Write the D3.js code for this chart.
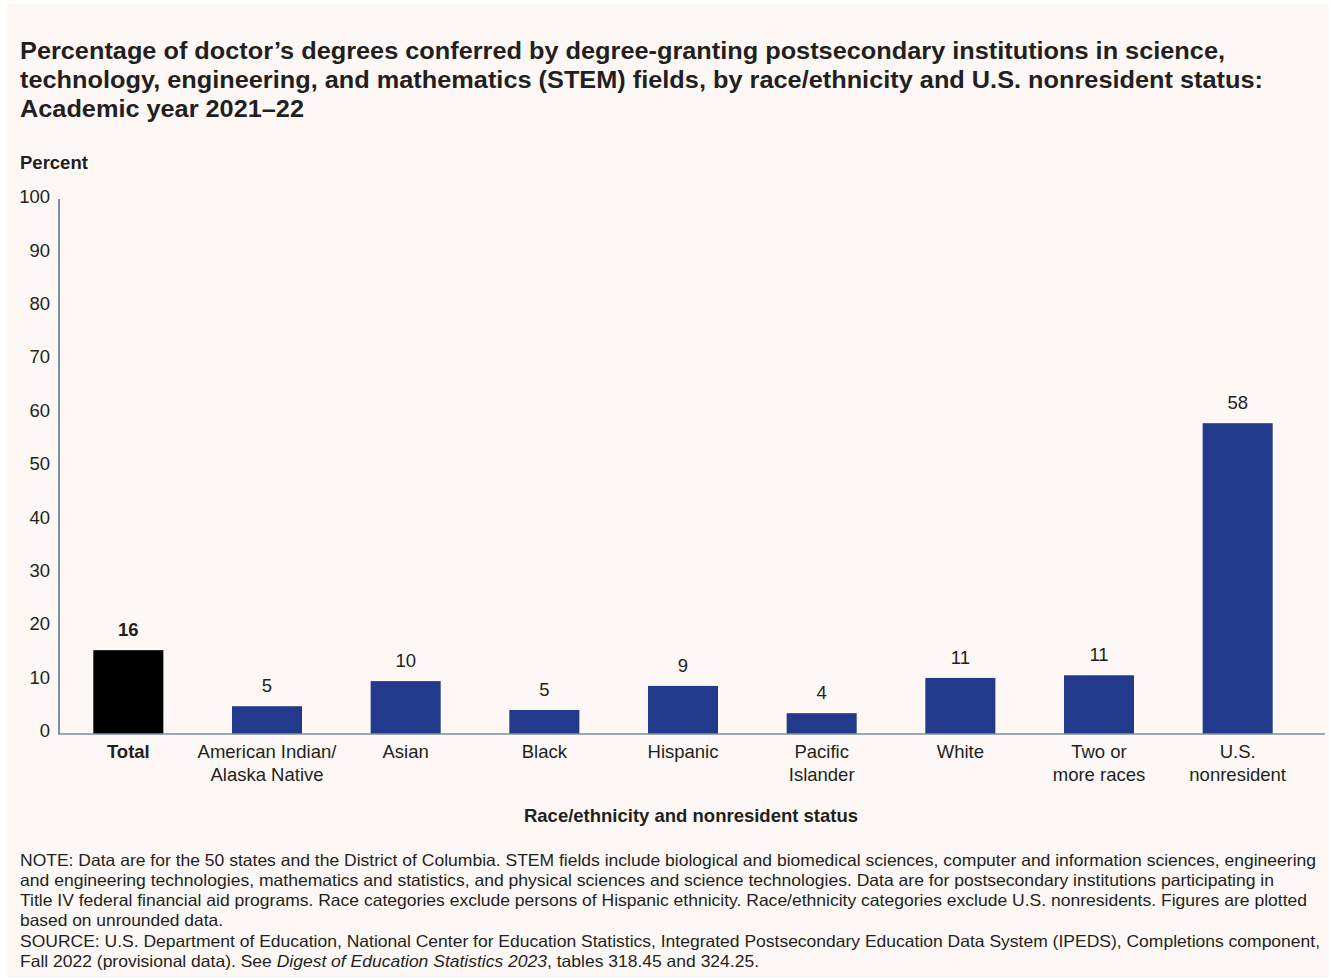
<!DOCTYPE html>
<html>
<head>
<meta charset="utf-8">
<script src="https://cdn.jsdelivr.net/npm/d3@7"></script>
<style>
  html, body { margin: 0; padding: 0; background: #ffffff; }
  svg { display: block; font-family: "Liberation Sans", Arial, sans-serif; }
</style>
</head>
<body>
<svg id="chart" width="1331" height="980"></svg>
<script>
const categories = ["Total", "American Indian/\nAlaska Native", "Asian", "Black", "Hispanic", "Pacific\nIslander", "White", "Two or\nmore races", "U.S.\nnonresident"];
const values = [15.7, 5.2, 9.9, 4.5, 9.0, 3.9, 10.5, 11.0, 58.2];
const valueLabels = ["16", "5", "10", "5", "9", "4", "11", "11", "58"];
const yTicks = [0, 10, 20, 30, 40, 50, 60, 70, 80, 90, 100];
const titleLines = [
  "Percentage of doctor\u2019s degrees conferred by degree-granting postsecondary institutions in science,",
  "technology, engineering, and mathematics (STEM) fields, by race/ethnicity and U.S. nonresident status:",
  "Academic year 2021\u201322"
];
const noteLines = [
  "NOTE: Data are for the 50 states and the District of Columbia. STEM fields include biological and biomedical sciences, computer and information sciences, engineering",
  "and engineering technologies, mathematics and statistics, and physical sciences and science technologies. Data are for postsecondary institutions participating in",
  "Title IV federal financial aid programs. Race categories exclude persons of Hispanic ethnicity. Race/ethnicity categories exclude U.S. nonresidents. Figures are plotted",
  "based on unrounded data."
];

const svg = d3.select("#chart");
svg.append("rect").attr("x", 7).attr("y", 4).attr("width", 1322).attr("height", 974).attr("fill", "#fdf8f5");

// Title
const titleWidths = [1205, 1243, 284];
svg.append("g").selectAll("text").data(titleLines).join("text")
  .attr("x", 20).attr("y", (d, i) => 59 + i * 29)
  .attr("font-size", 23.5).attr("font-weight", "bold").attr("fill", "#231f20")
  .attr("textLength", (d, i) => titleWidths[i]).attr("lengthAdjust", "spacingAndGlyphs")
  .text(d => d);

svg.append("text").attr("x", 20).attr("y", 169).attr("font-size", 18.5).attr("font-weight", "bold")
  .attr("fill", "#231f20").text("Percent");

const x = d3.scaleBand().domain(categories).range([59, 1307]).paddingInner(0.495).paddingOuter(0.2475);
const y = d3.scaleLinear().domain([0, 100]).range([734, 200]);

// y axis
const yAxis = svg.append("g").attr("transform", "translate(59,0)")
  .call(d3.axisLeft(y).tickValues(yTicks).tickSize(0).tickPadding(9));
yAxis.select(".domain").attr("stroke", "#7d919e").attr("stroke-width", 2).attr("d", `M0,${y(0)}V199`);
yAxis.selectAll(".tick text").attr("font-size", 18.5).attr("fill", "#231f20")
  .attr("font-family", "Liberation Sans, Arial, sans-serif").attr("dy", "0.15em");

// bars
svg.append("g").selectAll("rect").data(categories).join("rect")
  .attr("x", d => x(d)).attr("width", x.bandwidth())
  .attr("y", (d, i) => y(values[i])).attr("height", (d, i) => y(0) - y(values[i]))
  .attr("fill", (d, i) => i === 0 ? "#000000" : "#233a8c");

// x axis
const xAxis = svg.append("g").attr("transform", `translate(0,${y(0)})`)
  .call(d3.axisBottom(x).tickSize(0).tickFormat(""));
xAxis.select(".domain").attr("stroke", "#7d919e").attr("stroke-width", 1.5).attr("d", "M58,0H1325");

// category labels
const catG = svg.append("g");
categories.forEach((c, i) => {
  const t = catG.append("text").attr("x", x(c) + x.bandwidth() / 2).attr("y", 758)
    .attr("text-anchor", "middle").attr("font-size", 18.5).attr("fill", "#231f20")
    .attr("font-weight", i === 0 ? "bold" : "normal");
  c.split("\n").forEach((line, j) => {
    t.append("tspan").attr("x", x(c) + x.bandwidth() / 2).attr("dy", j === 0 ? 0 : 23).text(line);
  });
});

// value labels
svg.append("g").selectAll("text").data(categories).join("text")
  .attr("x", d => x(d) + x.bandwidth() / 2)
  .attr("y", (d, i) => y(values[i]) - 14)
  .attr("text-anchor", "middle").attr("font-size", 18.5).attr("fill", "#231f20")
  .attr("font-weight", (d, i) => i === 0 ? "bold" : "normal")
  .text((d, i) => valueLabels[i]);

// x title
svg.append("text").attr("x", 691).attr("y", 822).attr("text-anchor", "middle")
  .attr("font-size", 18.5).attr("font-weight", "bold").attr("fill", "#231f20")
  .text("Race/ethnicity and nonresident status");

// notes
const noteG = svg.append("g").attr("font-size", 16.5).attr("fill", "#231f20");
const noteWidths = [1296, 1254, 1287, 203];
noteLines.forEach((line, i) => {
  noteG.append("text").attr("x", 20).attr("y", 866 + i * 20).text(line)
    .attr("textLength", noteWidths[i]).attr("lengthAdjust", "spacingAndGlyphs");
});
noteG.append("text").attr("x", 20).attr("y", 947)
  .text("SOURCE: U.S. Department of Education, National Center for Education Statistics, Integrated Postsecondary Education Data System (IPEDS), Completions component,")
  .attr("textLength", 1300).attr("lengthAdjust", "spacingAndGlyphs");
const src2 = noteG.append("text").attr("x", 20).attr("y", 967)
  .attr("textLength", 739).attr("lengthAdjust", "spacingAndGlyphs");
src2.append("tspan").text("Fall 2022 (provisional data). See ");
src2.append("tspan").attr("font-style", "italic").text("Digest of Education Statistics 2023");
src2.append("tspan").text(", tables 318.45 and 324.25.");
</script>
</body>
</html>
